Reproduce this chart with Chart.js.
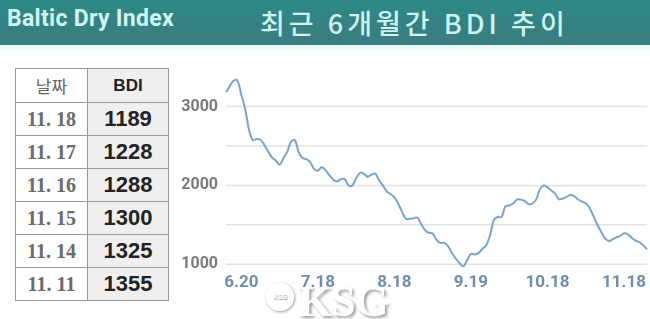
<!DOCTYPE html>
<html>
<head>
<meta charset="utf-8">
<script src="https://cdn.jsdelivr.net/npm/chart.js@4"></script>
<style>
body { margin: 0; width: 650px; height: 319px; overflow: hidden; background: #fff; position: relative; font-family: Roboto, sans-serif; }
.bar { position: absolute; left: 0; top: 0; width: 650px; height: 45px; background: linear-gradient(#2c8985, #3d7c7f); }
.strip { position: absolute; left: 0; top: 45px; width: 650px; height: 7px; background: linear-gradient(#e0f8f8, #fff); }
.name { position: absolute; left: 7px; top: 5px; font: bold 23px Roboto; letter-spacing: 0.3px; color: #cff6f4; white-space: nowrap; }
.title { position: absolute; left: 260px; top: 3px; font: 500 27px 'Noto Sans CJK KR'; letter-spacing: 4px; color: #cdf3f1; white-space: nowrap; }
table { position: absolute; left: 15px; top: 68px; border-collapse: collapse; }
td { border: 1px solid #9a9a9a; padding: 0; text-align: center; }
td.d { width: 71px; color: #6b6b6b; font: bold 20px 'Liberation Serif'; }
td.v { width: 80px; background: #efefef; color: #232323; font: bold 22px 'Liberation Sans'; }
tr.h td { height: 33px; }
tr.h td.d { font: 17px 'Noto Sans CJK KR'; color: #666; }
tr.h td.v { font: bold 17px 'Liberation Sans'; }
tr.r td { height: 32px; }
#wrap { position: absolute; left: 170px; top: 56px; width: 480px; height: 244px; }
.wm { position: absolute; left: 298px; top: 276px; font: bold 44px 'Liberation Serif'; color: #fff; text-shadow: 2px 2px 3px #999; letter-spacing: -1px; }
.logo { position: absolute; left: 266px; top: 283px; width: 24px; height: 24px; border-radius: 50%; border: 2px solid #fff; box-shadow: 1px 1px 3px #999; font: bold 7px Roboto; color: #fff; text-align: center; line-height: 24px; text-shadow: 1px 1px 1px #999; }
</style>
</head>
<body>
<div class="bar"></div>
<div class="strip"></div>
<div class="name">Baltic Dry Index</div>
<div class="title">최근 6개월간 BDI 추이</div>
<table id="tbl"></table>
<div id="wrap"><canvas id="myChart"></canvas></div>
<div class="logo">KSG</div>
<div class="wm">KSG</div>
<script>
// table on the left
var tableDates = ['11. 18', '11. 17', '11. 16', '11. 15', '11. 14', '11. 11'];
var tableValues = [1189, 1228, 1288, 1300, 1325, 1355];

// line chart (one point about every other trading day)
var bdi = [
  3183, 3260, 3330, 3330, 3150, 2970, 2710, 2575, 2590, 2580,
  2515, 2430, 2355, 2317, 2262, 2345, 2430, 2555, 2575, 2420,
  2348, 2333, 2295, 2210, 2187, 2232, 2195, 2130, 2075, 2050,
  2078, 2080, 2003, 2000, 2090, 2160, 2150, 2110, 2135, 2150,
  2065, 2000, 1925, 1890, 1850, 1768, 1665, 1576, 1576, 1585,
  1590, 1510, 1435, 1400, 1390, 1310, 1271, 1271, 1230, 1145,
  1075, 1015, 975, 1050, 1130, 1125, 1145, 1195, 1240, 1370,
  1560, 1600, 1600, 1735, 1745, 1770, 1820, 1820, 1805, 1765,
  1770, 1820, 1950, 2000, 1975, 1935, 1895, 1825, 1835, 1855,
  1878, 1862, 1822, 1795, 1770, 1715, 1610, 1505, 1414, 1330,
  1295, 1315, 1340, 1360, 1393, 1380, 1335, 1300, 1280, 1240,
  1189
];
var tickLabels = ['6.20', '7.18', '8.18', '9.19', '10.18', '11.18'];
var tickIndex = [4, 24, 44, 64, 84, 104];
var yTicks = [1000, 1500, 2000, 2500, 3000];
var yLabels = [1000, 2000, 3000];

var html = '<tr class="h"><td class="d">날짜</td><td class="v">BDI</td></tr>';
for (var i = 0; i < tableDates.length; i++) {
  html += '<tr class="r"><td class="d">' + tableDates[i] + '</td><td class="v">' + tableValues[i] + '</td></tr>';
}
document.getElementById('tbl').innerHTML = html;

var labels = bdi.map(function () { return ''; });
tickIndex.forEach(function (k, n) { labels[k] = tickLabels[n]; });

var datasets = [{
  label: 'BDI',
  data: bdi,
  borderColor: '#7ba4cd',
  borderWidth: 2,
  pointRadius: 0,
  tension: 0.4,
  fill: false,
  order: 0
}];
// light guide lines at the y ticks, drawn under the index line
yTicks.forEach(function (v) {
  datasets.push({
    label: 'grid' + v,
    data: bdi.map(function () { return v; }),
    borderColor: '#e2e2e2',
    borderWidth: 1.5,
    pointRadius: 0,
    fill: false,
    order: 1
  });
});

var ctx = document.getElementById('myChart').getContext('2d');
var myChart = new Chart(ctx, {
  type: 'line',
  data: { labels: labels, datasets: datasets },
  options: {
    responsive: true,
    maintainAspectRatio: false,
    animation: false,
    layout: { padding: { top: 0, right: 1, left: 0, bottom: 0 } },
    plugins: { legend: { display: false }, tooltip: { enabled: false } },
    scales: {
      x: {
        offset: false,
        grid: { display: false, drawTicks: false },
        border: { display: false },
        ticks: {
          autoSkip: false, maxRotation: 0, padding: 3,
          color: '#6f8db0',
          font: { family: "'Liberation Sans Narrow', Roboto", size: 17, weight: 'bold' }
        },
        afterFit: function (s) { s.height = 30; }
      },
      y: {
        min: 927,
        max: 3419,
        grid: { display: false, drawTicks: false },
        border: { display: false },
        afterBuildTicks: function (s) {
          s.ticks = yTicks.map(function (v) { return { value: v }; });
        },
        ticks: {
          padding: 8,
          color: '#7a7a7a',
          font: { family: 'Roboto', size: 16, weight: 'bold' },
          callback: function (v) { return yLabels.indexOf(v) >= 0 ? v : ''; }
        },
        afterFit: function (s) { s.width = 56; }
      }
    }
  }
});
</script>
</body>
</html>
